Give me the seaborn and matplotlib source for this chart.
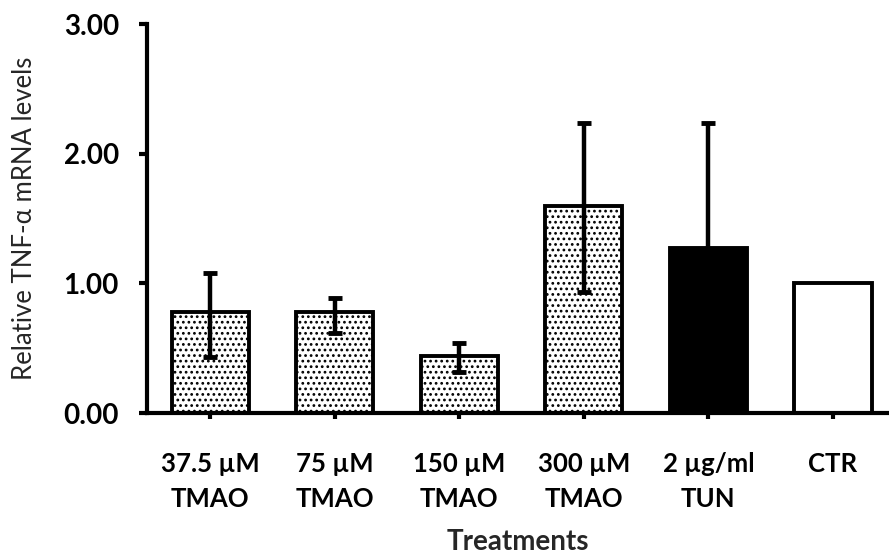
import matplotlib
matplotlib.use("Agg")
import matplotlib.pyplot as plt
import seaborn as sns
import numpy as np
import pandas as pd

categories = ["37.5 µM\nTMAO", "75 µM\nTMAO", "150 µM\nTMAO", "300 µM\nTMAO", "2 µg/ml\nTUN", "CTR"]
means = [0.78, 0.78, 0.44, 1.60, 1.27, 1.00]
err_low = [0.35, 0.16, 0.12, 0.67, 0.97, 0.0]
err_high = [0.30, 0.11, 0.10, 0.64, 0.97, 0.0]
fills = ["white", "white", "white", "white", "black", "white"]
hatches = ["...", "...", "...", "...", "", ""]
y_ticks = [0, 1, 2, 3]
y_ticklabels = ["0.00", "1.00", "2.00", "3.00"]

sns.set_theme(style="white")
plt.rcParams["font.family"] = ["Lato", "DejaVu Sans"]
plt.rcParams["hatch.linewidth"] = 1.2

fig = plt.figure(figsize=(8.89, 5.6), dpi=100)
ax = fig.add_axes([0.165, 0.2625, 0.835, 0.6945])

df = pd.DataFrame({"cat": categories, "val": means})
sns.barplot(data=df, x="cat", y="val", hue="cat", palette=fills, legend=False,
            width=0.62, edgecolor="black", linewidth=2.8, ax=ax, errorbar=None,
            saturation=1)
for patch, h in zip(ax.patches, hatches):
    patch.set_hatch(h)
    patch.set_edgecolor("black")

xpos = np.arange(len(categories))
mask = np.array(err_high) > 0
ax.errorbar(xpos[mask], np.array(means)[mask],
            yerr=[np.array(err_low)[mask], np.array(err_high)[mask]],
            fmt="none", ecolor="black", elinewidth=3.2, capsize=5, capthick=3.5, zorder=5)

ax.set_ylim(0, 3)
ax.set_xlim(-0.51, 5.45)
ax.set_yticks(y_ticks)
ax.set_yticklabels(y_ticklabels, fontsize=20, fontweight="bold")
ax.set_xticks(xpos)
ax.set_xticklabels(categories, fontsize=18.5, fontweight="bold", linespacing=1.55)
ax.set_ylabel("Relative TNF-α mRNA levels", fontsize=18.5, labelpad=19)
ax.set_xlabel("Treatments", fontsize=20, fontweight="bold", labelpad=13)

for s in ["top", "right"]:
    ax.spines[s].set_visible(False)
for s in ["left", "bottom"]:
    ax.spines[s].set_linewidth(3)
    ax.spines[s].set_color("black")
ax.tick_params(axis="y", direction="out", length=6, width=3, left=True, pad=14, colors="black")
ax.tick_params(axis="x", direction="out", length=4, width=3, bottom=True, pad=24, colors="black")
ax.grid(False)

fig.savefig("out.png", dpi=100)
